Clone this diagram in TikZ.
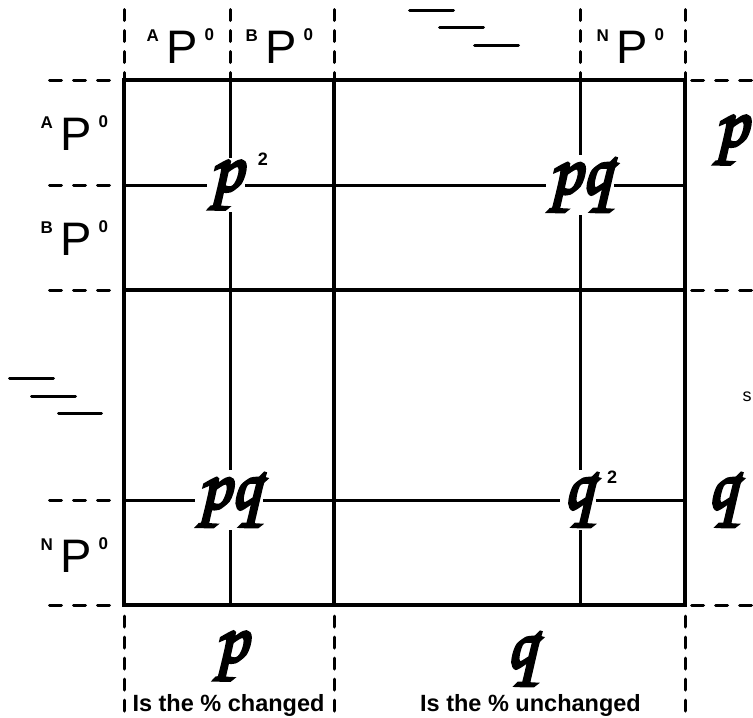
\documentclass[tikz,border=0pt]{standalone}
\usepackage{fontspec}
\setmainfont{Liberation Sans}
\newfontfamily\scr[FakeBold=4]{texgyrechorus-mediumitalic.otf}
\newcommand\suptxt[1]{{\bfseries\fontsize{17}{17}\selectfont #1}}
\newcommand\plbl[1]{\llap{\raisebox{22pt}{\suptxt{#1}}\kern7.5pt}P\rlap{\kern7pt\raisebox{23pt}{\suptxt{0}}}}
\begin{document}
\begin{tikzpicture}[x=1pt,y=-1pt,
  border/.style={line width=3.2pt},
  gridln/.style={line width=3pt},
  dsh/.style={line width=3pt, line cap=round, dash pattern=on 12pt off 12pt},
  vdsh/.style={line width=3pt, line cap=round, dash pattern=on 11pt off 10pt},
  stair/.style={line width=3pt, line cap=round},
  glyph/.style={font=\scr\fontsize{74}{74}\selectfont, fill=white, inner sep=3pt},
  sup/.style={font=\bfseries\fontsize{18}{18}\selectfont, inner sep=0pt},
  plab/.style={font=\fontsize{47}{47}\selectfont, inner sep=0pt, anchor=base},
  capt/.style={font=\bfseries\fontsize{23.5}{23.5}\selectfont, inner sep=0pt, anchor=base},
]
\useasboundingbox (0,0) rectangle (753,718);
\clip (0,0) rectangle (753,718);
% dashed extension lines
\foreach \y in {80,185,290,500,605} \draw[dsh] (49.5,\y) -- (111.5,\y);
\foreach \y in {80,290,605} \draw[dsh] (691.5,\y) -- (770,\y);
\foreach \x in {124,230,334,580,685} \draw[vdsh] (\x,9.5) -- (\x,78);
\foreach \x in {124,334,685} \draw[vdsh] (\x,616) -- (\x,730);
% grid
\draw[border] (124,80) rectangle (685,605);
\draw[border] (334,80) -- (334,605);
\draw[border] (124,290) -- (685,290);
\draw[gridln] (230,80) -- (230,605);
\draw[gridln] (580,80) -- (580,605);
\draw[gridln] (124,185) -- (685,185);
\draw[gridln] (124,500) -- (685,500);
% continuation marks
\draw[stair] (409.5,10) -- (453.5,10);
\draw[stair] (439.5,27) -- (483.5,27);
\draw[stair] (474.5,45) -- (518.5,45);
\draw[stair] (9.5,378) -- (53.5,378);
\draw[stair] (31.5,396) -- (75.5,396);
\draw[stair] (58.5,413) -- (101.5,413);
% labels
\node[plab] (ta) at (182,63) {\plbl{A}};
\node[plab] (tb) at (281,63) {\plbl{B}};
\node[plab] (tn) at (632,63) {\plbl{N}};
\node[plab] (la) at (76,150) {\plbl{A}};
\node[plab] (lb) at (76,255) {\plbl{B}};
\node[plab] (ln) at (76,572) {\plbl{N}};
% cell entries
\node[glyph] (pp) at (226,185) {p};
\node[sup] (pp2) at (263,159) {2};
\node[glyph] (pq1) at (580,185) {pq};
\node[glyph] (pq2) at (229,500) {pq};
\node[glyph] (qq) at (578,500) {q};
\node[sup] (qq2) at (612,477) {2};
% bottom
\node[glyph, fill=none] (bp) at (231,656) {p};
\node[glyph, fill=none] (bq) at (521,659) {q};
\node[capt] (cl) at (228.5,711) {Is the \% changed};
\node[capt] (cr) at (530.5,711) {Is the \% unchanged};
% partial right edge
\node[glyph, fill=none] (rp) at (731,140) {p};
\node[glyph, fill=none] (rq) at (722,500) {q};
\node[font=\fontsize{18}{18}\selectfont, inner sep=0pt] (rs) at (747,397) {s};
\end{tikzpicture}
\end{document}
